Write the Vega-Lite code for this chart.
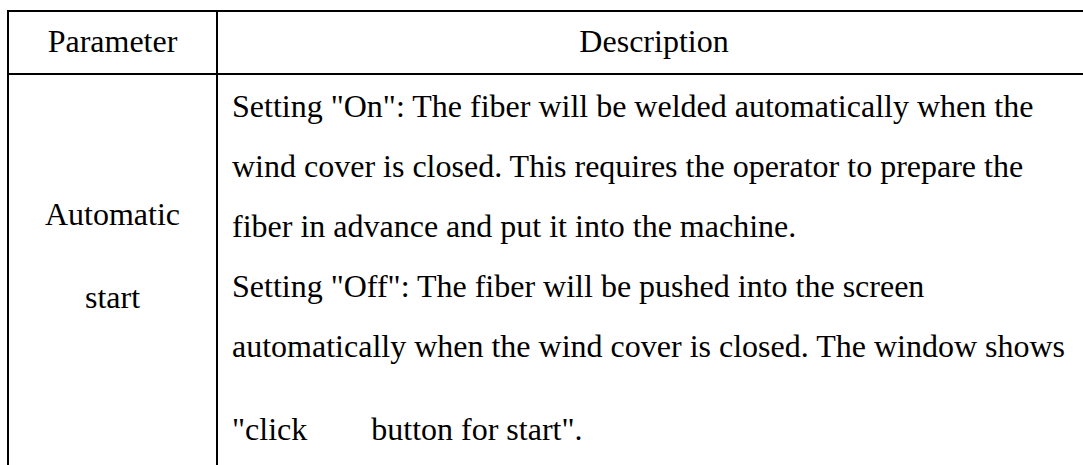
{
  "$schema": "https://vega.github.io/schema/vega-lite/v6.json",
  "width": 1083,
  "height": 465,
  "autosize": {"type": "fit", "contains": "padding"},
  "padding": 0,
  "background": "white",
  "config": {
    "view": {"stroke": null},
    "text": {"font": "Liberation Serif", "fontSize": 32, "color": "black"}
  },
  "resolve": {"scale": {"x": "independent", "y": "independent"}},
  "layer": [
    {
      "data": {"values": [
        {"boundary": 0, "from": 0, "to": 2},
        {"boundary": 1, "from": 0, "to": 2}
      ]},
      "mark": {"type": "rule", "color": "black", "strokeWidth": 2},
      "encoding": {
        "y": {"field": "boundary", "type": "quantitative", "axis": null,
              "scale": {"domain": [0, 1, 2], "range": [11, 74, 465], "zero": false, "nice": false}},
        "x": {"field": "from", "type": "quantitative", "axis": null,
              "scale": {"domain": [0, 1, 2], "range": [8, 217, 1083], "zero": false, "nice": false}},
        "x2": {"field": "to"}
      }
    },
    {
      "data": {"values": [
        {"boundary": 0, "from": 0, "to": 2},
        {"boundary": 1, "from": 0, "to": 2}
      ]},
      "mark": {"type": "rule", "color": "black", "strokeWidth": 2},
      "encoding": {
        "x": {"field": "boundary", "type": "quantitative", "axis": null,
              "scale": {"domain": [0, 1, 2], "range": [8, 217, 1083], "zero": false, "nice": false}},
        "y": {"field": "from", "type": "quantitative", "axis": null,
              "scale": {"domain": [0, 1, 2], "range": [10, 74, 465], "zero": false, "nice": false}},
        "y2": {"field": "to"}
      }
    },
    {
      "data": {"values": [
        {"col": 0, "line": 0, "text": "\u00a0\u00a0\u00a0\u00a0Parameter"},
        {"col": 1, "line": 0, "text": "Description"},
        {"col": 0, "line": 1, "text": "Automatic"},
        {"col": 0, "line": 2, "text": "start\u00a0"}
      ]},
      "mark": {"type": "text", "align": "center", "baseline": "alphabetic", "font": "Liberation Serif", "fontSize": 32, "color": "black"},
      "encoding": {
        "x": {"field": "col", "type": "quantitative", "axis": null,
              "scale": {"domain": [0, 1], "range": [112.5, 654], "zero": false, "nice": false}},
        "y": {"field": "line", "type": "quantitative", "axis": null,
              "scale": {"domain": [0, 1, 2], "range": [52, 225, 308], "zero": false, "nice": false}},
        "text": {"field": "text", "type": "nominal"}
      }
    },
    {
      "data": {"values": [
        {"col": 1, "line": 1, "text": "Setting \"On\": The fiber will be welded automatically when the"},
        {"col": 1, "line": 2, "text": "wind cover is closed. This requires the operator to prepare the"},
        {"col": 1, "line": 3, "text": "fiber in advance and put it into the machine."},
        {"col": 1, "line": 4, "text": "Setting \"Off\": The fiber will be pushed into the screen"},
        {"col": 1, "line": 5, "text": "automatically when the wind cover is closed. The window shows"},
        {"col": 1, "line": 6, "text": "\"click\u00a0\u00a0\u00a0\u00a0\u00a0\u00a0\u00a0\u00a0button for start\"."}
      ]},
      "mark": {"type": "text", "align": "left", "baseline": "alphabetic", "font": "Liberation Serif", "fontSize": 32, "color": "black"},
      "encoding": {
        "x": {"field": "col", "type": "quantitative", "axis": null,
              "scale": {"domain": [1, 2], "range": [232, 1083], "zero": false, "nice": false}},
        "y": {"field": "line", "type": "quantitative", "axis": null,
              "scale": {"domain": [0, 1, 5, 6], "range": [52, 117, 357, 440], "zero": false, "nice": false}},
        "text": {"field": "text", "type": "nominal"}
      }
    }
  ]
}
